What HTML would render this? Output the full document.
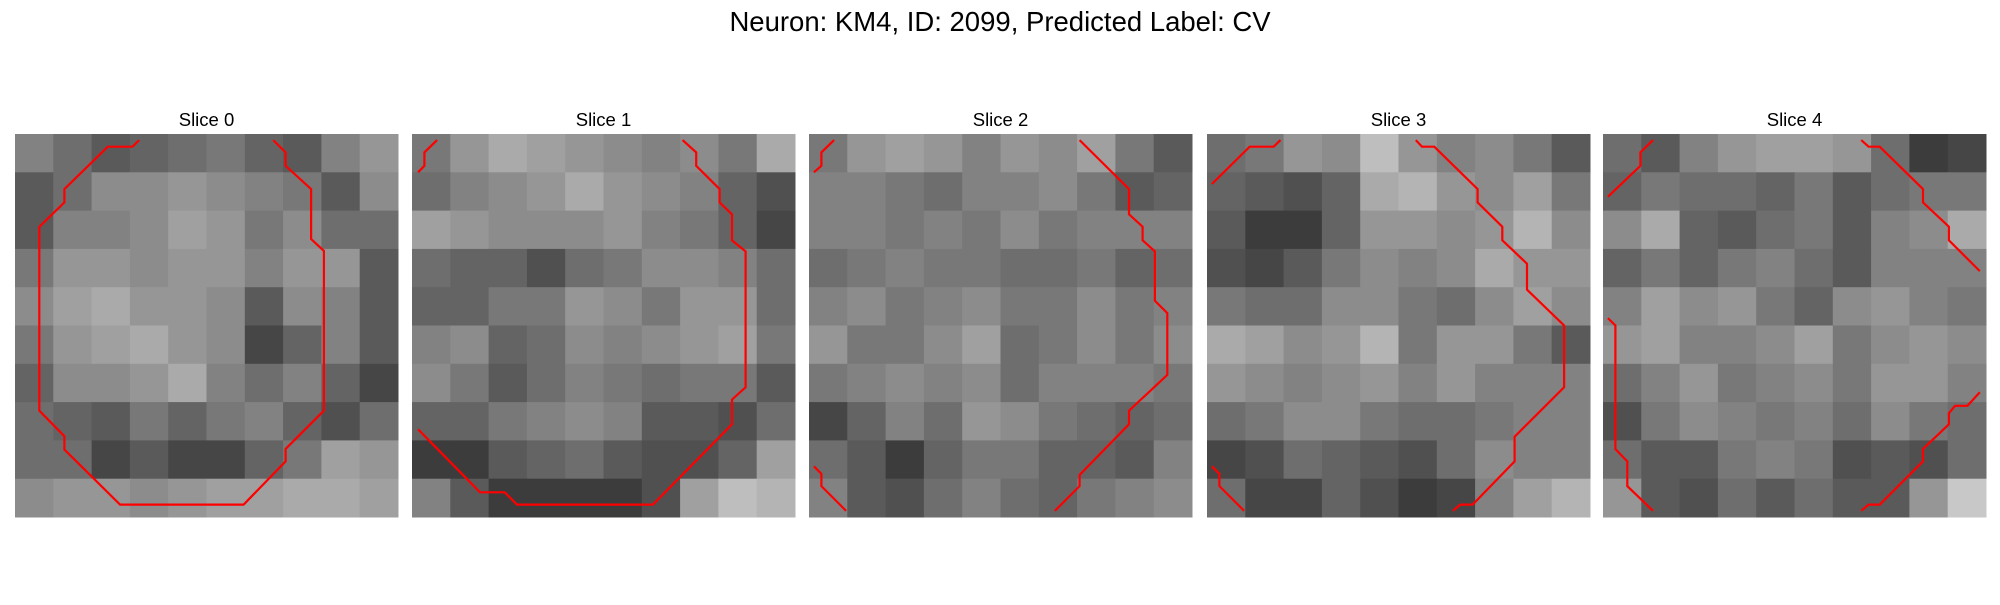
<!DOCTYPE html>
<html><head><meta charset="utf-8"><style>
body{margin:0;background:#fff;width:2000px;height:600px;overflow:hidden;font-family:"Liberation Sans","DejaVu Sans",sans-serif}
</style></head><body>
<svg id="fig" width="2000" height="600" xmlns="http://www.w3.org/2000/svg">
<text x="1000" y="31" text-anchor="middle" font-size="27.5" fill="#000">Neuron: KM4, ID: 2099, Predicted Label: CV</text>
</svg>
<script>
const sliceTitles = ["Slice 0","Slice 1","Slice 2","Slice 3","Slice 4"];
// coarse 10x10 intensity blocks per slice (0-255)
const slice0 = [[130,110,90,100,110,120,100,90,130,150],[90,110,140,140,150,140,130,120,90,140],[90,130,130,140,160,150,120,140,110,110],[120,150,150,140,150,150,130,150,150,90],[140,160,170,150,150,140,90,140,130,90],[120,150,160,170,150,140,70,100,130,90],[100,140,140,150,170,130,110,130,100,70],[110,100,90,120,100,120,130,100,80,110],[110,110,70,90,70,70,100,120,160,150],[140,150,150,140,150,160,160,170,170,160]];
const slice1 = [[120,150,170,160,150,140,130,140,120,170],[110,130,140,150,170,150,140,130,100,80],[160,150,140,140,140,150,130,120,100,70],[110,100,100,80,110,120,140,140,130,110],[100,100,120,120,150,140,120,150,150,110],[130,140,100,110,140,130,140,150,160,120],[140,120,90,110,130,120,110,120,120,90],[100,100,120,130,140,130,90,90,80,110],[60,60,90,100,110,90,80,80,100,160],[130,90,60,60,60,60,80,160,190,180]];
const slice2 = [[120,150,160,150,130,150,140,160,120,90],[130,130,120,110,130,130,140,120,90,100],[130,130,120,130,120,140,120,130,130,130],[110,120,130,120,120,110,110,120,100,110],[130,140,120,130,140,120,120,140,120,130],[150,120,120,140,160,110,120,140,120,140],[120,130,140,130,140,110,130,130,130,120],[70,100,130,110,150,140,120,110,100,110],[110,90,60,100,120,120,100,100,90,130],[130,90,80,110,130,110,100,120,130,140]];
const slice3 = [[110,120,150,140,190,150,130,140,120,90],[100,90,80,100,170,180,150,140,160,120],[90,60,60,100,150,150,140,150,180,140],[80,70,90,120,140,130,140,170,150,150],[120,110,110,140,140,120,110,140,160,140],[170,160,140,150,180,120,150,150,120,90],[150,140,130,140,150,130,150,130,130,130],[110,120,140,140,120,110,110,120,130,130],[70,80,110,100,90,80,110,140,130,130],[110,70,70,100,80,60,70,130,160,180]];
const slice4 = [[110,90,130,150,160,160,150,110,60,70],[100,120,110,110,100,120,90,110,120,120],[140,170,100,90,110,120,90,130,140,170],[100,120,100,120,130,110,90,130,130,130],[130,160,140,150,120,100,140,150,130,120],[150,160,130,130,140,160,120,140,150,140],[110,130,150,120,130,140,120,150,150,130],[80,120,140,130,120,130,110,140,120,110],[110,90,90,120,130,120,80,90,80,110],[150,90,80,110,90,110,90,90,150,200]];
const intensities = [slice0,slice1,slice2,slice3,slice4];
// contour vertices in cell units (grid 0..31)
const contours0 = [[[10.05,.49],[9.51,1.03],[7.51,1.03],[4,4.46],[4,5.54],[1.97,7.51],[1.97,22.4],[4,24.46],[4,25.54],[8.51,30],[18.5,30],[21.9,26.5],[21.9,25.5],[25,22.4],[25,9.46],[23.97,8.5],[23.97,4.46],[21.9,2.57],[21.9,1.49],[20.9,.49]]];
const contours1 = [[[2.03,.49],[1,1.49],[1,2.57],[.49,3.1]],[[21.9,.49],[23,1.49],[23,2.57],[24.9,4.46],[24.9,5.54],[25.9,6.5],[25.9,8.6],[27,9.5],[27,20.5],[25.9,21.5],[25.9,23.5],[19.5,30],[8.5,30],[7.5,29],[5.5,29],[.49,23.9]]];
const contours2 = [[[2.03,.49],[1,1.49],[1,2.57],[.4,3.1]],[[21.9,.49],[25.9,4.46],[25.9,6.5],[27,7.5],[27,8.6],[28,9.5],[28,13.5],[29,14.5],[29,19.5],[25.9,22.4],[25.9,23.5],[21.9,27.6],[21.9,28.5],[19.9,30.5]],[[.4,26.9],[1,27.5],[1,28.5],[3,30.5]]];
const contours3 = [[[5.95,.49],[5.4,1.03],[3.46,1.03],[.4,4.05]],[[16.9,.49],[17.4,1.03],[18.4,1.03],[21.9,4.46],[21.9,5.54],[23.9,7.5],[23.9,8.6],[25.9,10.5],[25.9,12.6],[28.9,15.5],[28.9,20.5],[24.9,24.5],[24.9,26.5],[21.5,30],[20.5,30],[19.9,30.5]],[[.4,26.9],[1,27.5],[1,28.5],[3,30.5]]];
const contours4 = [[[4.05,.49],[3.03,1.49],[3.03,2.57],[.4,5.08]],[[20.9,.49],[21.5,1.03],[22.4,1.03],[25.9,4.46],[25.9,5.54],[28,7.5],[28,8.6],[30.5,11.1]],[[.4,14.9],[1,15.5],[1,25.5],[1.97,26.5],[1.97,28.5],[4.05,30.5]],[[30.5,20.9],[29.5,22],[28.5,22],[28,22.6],[28,23.5],[25.9,25.5],[25.9,26.5],[22.4,30],[21.5,30],[20.9,30.5]]];
const contours = [contours0,contours1,contours2,contours3,contours4];

const NS = "http://www.w3.org/2000/svg";
const svg = document.getElementById('fig');
const panelX = [15,412,809,1207,1603], panelY = 134, panelSize = 383, gridN = 31;
function mk(tag, attrs){const e=document.createElementNS(NS,tag);for(const k in attrs)e.setAttribute(k,attrs[k]);return e;}
sliceTitles.forEach((t,si)=>{
  const x0 = panelX[si];
  const sx = u => x0 + u/gridN*panelSize;
  const sy = v => panelY + v/gridN*panelSize;
  const g = mk('g',{});
  
  
  svg.appendChild(g);
  const tt = mk('text',{x:x0+panelSize/2,y:126,'text-anchor':'middle','font-size':'18.5',fill:'#000'});
  tt.textContent = t;
  
  
  g.appendChild(tt);
  const grid = intensities[si];
  const rows = grid.length, cols = grid[0].length;
  grid.forEach((row,r)=>row.forEach((v,c)=>{
    const x1 = x0 + c/cols*panelSize, x2 = x0 + (c+1)/cols*panelSize;
    const y1 = panelY + r/rows*panelSize, y2 = panelY + (r+1)/rows*panelSize;
    const rc = mk('rect',{x:x1.toFixed(2),y:y1.toFixed(2),width:(x2-x1+0.5).toFixed(2),height:(y2-y1+0.5).toFixed(2),fill:`rgb(${v},${v},${v})`});
    
    
    g.appendChild(rc);
  }));
  contours[si].forEach((pts,ci)=>{
    const pl = mk('polyline',{points:pts.map(p=>sx(p[0]).toFixed(1)+','+sy(p[1]).toFixed(1)).join(' '),fill:'none',stroke:'#ff0000','stroke-width':'2.2','stroke-linejoin':'miter'});
    
    
    g.appendChild(pl);
  });
});
</script>
</body></html>
